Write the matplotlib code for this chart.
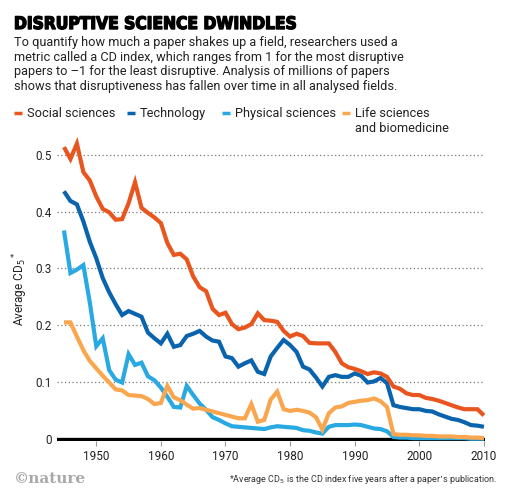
import matplotlib
matplotlib.use('Agg')
import matplotlib.pyplot as plt
import matplotlib.patheffects as pe
from matplotlib import font_manager
from matplotlib.lines import Line2D

# ---------------------------------------------------------------
# data (average CD5 per year)
# ---------------------------------------------------------------
years = list(range(1945, 2011))

social = [0.514, 0.493, 0.520, 0.470, 0.455, 0.427, 0.405, 0.399, 0.386, 0.387,
          0.415, 0.452, 0.407, 0.398, 0.390, 0.380, 0.345, 0.324, 0.326, 0.316,
          0.286, 0.267, 0.260, 0.229, 0.218, 0.222, 0.202, 0.193, 0.196, 0.202,
          0.221, 0.209, 0.208, 0.206, 0.190, 0.180, 0.185, 0.181, 0.169, 0.168,
          0.168, 0.168, 0.153, 0.133, 0.126, 0.123, 0.119, 0.114, 0.117, 0.115,
          0.109, 0.092, 0.088, 0.080, 0.077, 0.077, 0.072, 0.070, 0.067, 0.063,
          0.059, 0.055, 0.052, 0.052, 0.052, 0.041]

technology = [0.436, 0.419, 0.413, 0.383, 0.347, 0.318, 0.283, 0.258, 0.237, 0.218,
              0.225, 0.220, 0.215, 0.187, 0.177, 0.168, 0.185, 0.162, 0.165, 0.181,
              0.185, 0.190, 0.180, 0.173, 0.171, 0.145, 0.142, 0.127, 0.133, 0.138,
              0.118, 0.114, 0.145, 0.160, 0.174, 0.165, 0.153, 0.127, 0.122, 0.108,
              0.092, 0.109, 0.112, 0.109, 0.109, 0.115, 0.111, 0.099, 0.101, 0.107,
              0.098, 0.059, 0.056, 0.054, 0.052, 0.052, 0.049, 0.048, 0.043, 0.039,
              0.035, 0.033, 0.029, 0.024, 0.023, 0.021]

physical = [0.367, 0.292, 0.298, 0.306, 0.240, 0.163, 0.177, 0.121, 0.104, 0.099,
            0.149, 0.130, 0.134, 0.110, 0.103, 0.090, 0.074, 0.056, 0.055, 0.093,
            0.077, 0.062, 0.051, 0.038, 0.033, 0.027, 0.022, 0.021, 0.020, 0.019,
            0.018, 0.017, 0.020, 0.022, 0.021, 0.020, 0.019, 0.015, 0.014, 0.011,
            0.009, 0.021, 0.024, 0.024, 0.024, 0.025, 0.024, 0.021, 0.018, 0.017,
            0.013, 0.003, 0.002, 0.002, 0.001, 0.001, 0.001, 0.001, 0.001, 0.001,
            0.001, 0.001, 0.001, 0.000, 0.000, 0.000]

life = [0.205, 0.205, 0.180, 0.156, 0.137, 0.124, 0.111, 0.099, 0.087, 0.085,
        0.077, 0.076, 0.075, 0.070, 0.061, 0.063, 0.093, 0.073, 0.068, 0.060,
        0.053, 0.054, 0.051, 0.048, 0.045, 0.042, 0.039, 0.036, 0.036, 0.061,
        0.030, 0.033, 0.069, 0.083, 0.052, 0.049, 0.051, 0.049, 0.046, 0.038,
        0.016, 0.045, 0.055, 0.057, 0.063, 0.065, 0.067, 0.068, 0.071, 0.066,
        0.056, 0.008, 0.007, 0.007, 0.006, 0.006, 0.005, 0.005, 0.004, 0.004,
        0.004, 0.003, 0.003, 0.002, 0.002, 0.001]

series_labels = ['Social sciences', 'Technology', 'Physical sciences',
                 'Life sciences\nand biomedicine']
x_ticks = [1950, 1960, 1970, 1980, 1990, 2000, 2010]
y_ticks = [0, 0.1, 0.2, 0.3, 0.4, 0.5]
y_tick_labels = ['0', '0.1', '0.2', '0.3', '0.4', '0.5']

colors = ['#e9551f', '#0a63ad', '#29a9e1', '#f9a64f']

# fonts
names = {f.name for f in font_manager.fontManager.ttflist}
body = 'Roboto' if 'Roboto' in names else 'DejaVu Sans'
plt.rcParams['font.family'] = [body, 'DejaVu Sans']

title_kw = dict(family='DejaVu Sans', weight='bold')
if 'Liberation Sans Narrow' in names:
    title_kw = dict(family='Liberation Sans Narrow', weight='bold')
elif any(f.name == 'DejaVu Sans' and str(f.stretch) == 'condensed'
         for f in font_manager.fontManager.ttflist):
    title_kw = dict(family='DejaVu Sans', weight='bold', stretch='condensed')

fig = plt.figure(figsize=(5.12, 4.98), dpi=100)
ax = fig.add_axes([57 / 512, 0.1145, 428.4 / 512, 0.6084])

# draw order: physical, life, technology, social
for vals, c in [(physical, colors[2]), (life, colors[3]),
                (technology, colors[1]), (social, colors[0])]:
    ax.plot(years, vals, color=c, lw=3.0, solid_joinstyle='miter',
            solid_capstyle='butt', zorder=3, clip_on=False)

ax.axhline(0, color='black', lw=2.4, zorder=2)
ax.set_xlim(1943.92, 2010.23)
ax.set_ylim(-0.004, 0.53)
ax.set_xticks(x_ticks)
ax.set_yticks(y_ticks)
ax.set_yticklabels(y_tick_labels)
ax.yaxis.grid(True, linestyle=(0, (1, 2)), color='#777777', lw=0.9)
ax.set_axisbelow(True)
for s in ax.spines.values():
    s.set_visible(False)
ax.tick_params(axis='x', length=3.5, width=0.8, color='#999999', pad=3,
               labelsize=8.5, labelcolor='#222222')
ax.tick_params(axis='y', length=0, pad=4, labelsize=8.5, labelcolor='#222222')

fig.text(0.04, 0.42, 'Average CD$_5$$^*$', rotation=90, ha='center', va='center',
         fontsize=8.5, color='#222222')

# title, fitted to the reference width
t = fig.text(14 / 512, 1 - 24 / 498, 'DISRUPTIVE SCIENCE DWINDLES', va='center',
             ha='left', fontsize=20, color='black', **title_kw)
fig.canvas.draw()
w = t.get_window_extent().width
t.set_fontsize(20 * 282 / w)
t.set_path_effects([pe.withStroke(linewidth=1.0, foreground='black')])

subtitle = ('To quantify how much a paper shakes up a field, researchers used a\n'
            'metric called a CD index, which ranges from 1 for the most disruptive\n'
            'papers to \u20131 for the least disruptive. Analysis of millions of papers\n'
            'shows that disruptiveness has fallen over time in all analysed fields.')
fig.text(14 / 512, 1 - 36 / 498, subtitle, va='top', ha='left', fontsize=9.2,
         color='#222222', linespacing=1.17)

# legend
leg_x = [14, 127, 222, 342]
for lx, lab, c in zip(leg_x, series_labels, colors):
    fig.add_artist(Line2D([lx / 512, (lx + 8) / 512], [1 - 113.5 / 498] * 2,
                          color=c, lw=2.5, solid_capstyle='butt'))
    fig.text((lx + 13) / 512, 1 - 107 / 498, lab, va='top', ha='left',
             fontsize=9.2, color='#222222', linespacing=1.2)

fig.text(14 / 512, 1 - 479 / 498, '\u00a9nature', va='center', ha='left',
         family='DejaVu Serif', weight='bold', fontsize=11, color='#a8a8a8')
fig.text(497 / 512, 1 - 479 / 498,
         '*Average CD$_5$ is the CD index five years after a paper\u2019s publication.',
         va='center', ha='right', fontsize=6.5, color='#333333')

fig.savefig('out.png', dpi=100)
